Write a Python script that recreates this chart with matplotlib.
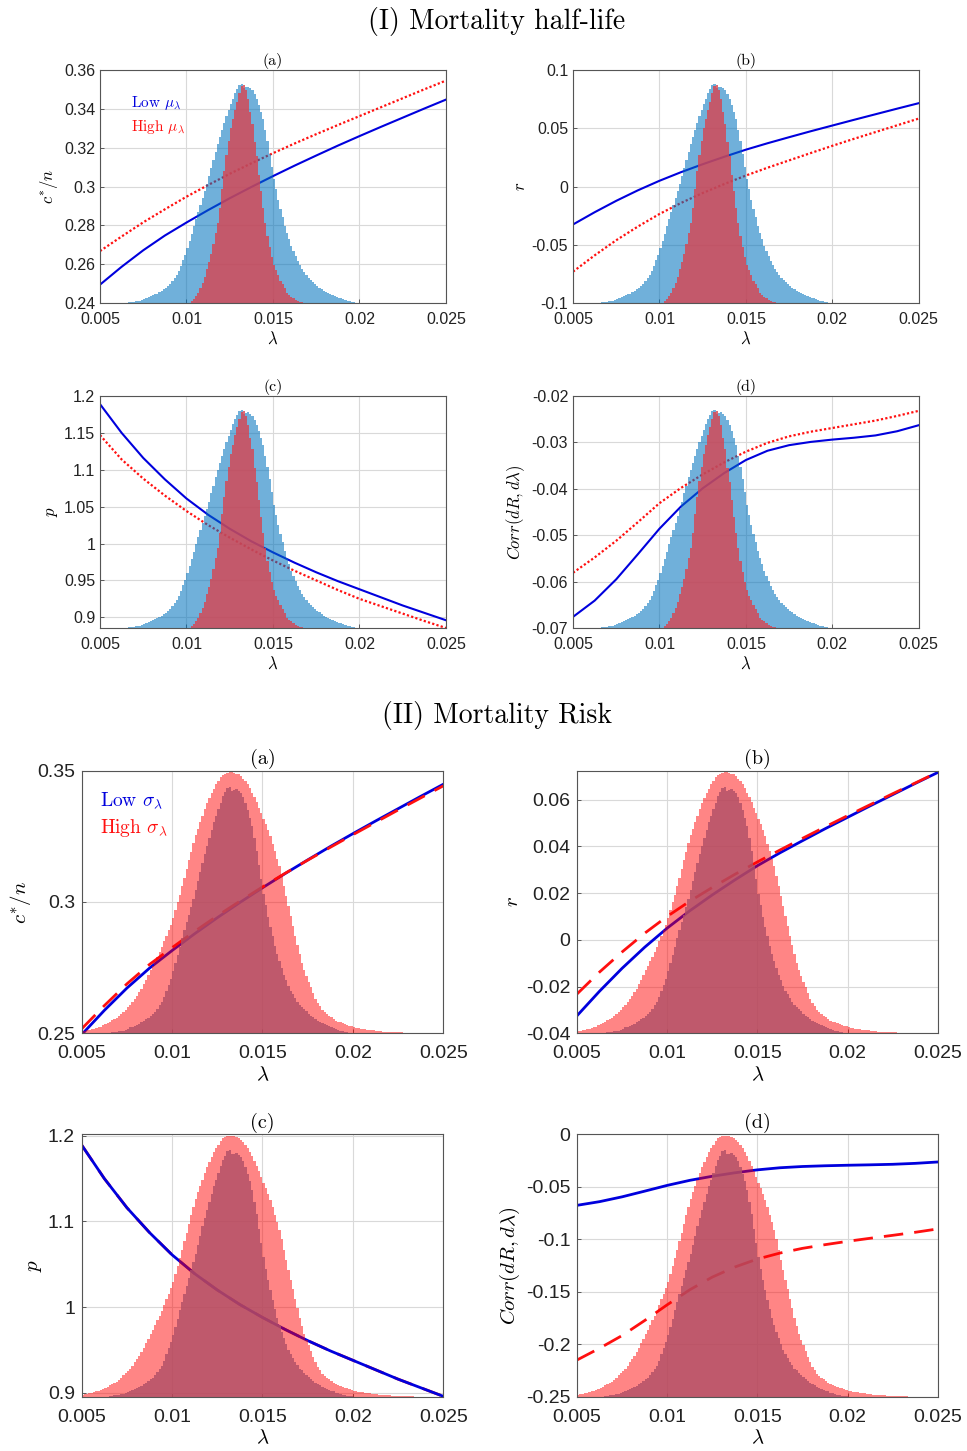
import numpy as np
import matplotlib
matplotlib.use('Agg')
import matplotlib.pyplot as plt
from matplotlib.transforms import blended_transform_factory

plt.rcParams['mathtext.fontset'] = 'cm'
plt.rcParams['axes.unicode_minus'] = False
plt.rcParams['font.family'] = ['Liberation Sans', 'DejaVu Sans']

# ---------------- data ----------------
lam = [0.005, 0.00625, 0.0075, 0.00875, 0.01, 0.01125, 0.0125, 0.01375, 0.015,
       0.01625, 0.0175, 0.01875, 0.02, 0.02125, 0.0225, 0.02375, 0.025]

# base case (Low mu / Low sigma)
cn_low = [0.2495, 0.2587, 0.2672, 0.2748, 0.2815, 0.2879, 0.2940, 0.2998, 0.3054,
          0.3108, 0.3160, 0.3211, 0.3260, 0.3308, 0.3355, 0.3402, 0.3448]
r_low = [-0.0325, -0.0220, -0.0122, -0.0032, 0.0050, 0.0124, 0.0192, 0.0256, 0.0317,
         0.0372, 0.0424, 0.0475, 0.0524, 0.0573, 0.0621, 0.0669, 0.0716]
p_low = [1.189, 1.150, 1.116, 1.087, 1.061, 1.039, 1.020, 1.003, 0.988,
         0.974, 0.961, 0.949, 0.938, 0.927, 0.916, 0.906, 0.896]
corr_low = [-0.0676, -0.0641, -0.0595, -0.0541, -0.0486, -0.0438, -0.0399, -0.0366, -0.0338,
            -0.0318, -0.0306, -0.0299, -0.0294, -0.0290, -0.0285, -0.0276, -0.0263]

# High mu_lambda (section I)
cn_highmu = [0.2668, 0.2743, 0.2816, 0.2883, 0.2948, 0.3008, 0.3066, 0.3120, 0.3172,
             0.3222, 0.3270, 0.3317, 0.3363, 0.3409, 0.3455, 0.3501, 0.3546]
r_highmu = [-0.0730, -0.0590, -0.0460, -0.0343, -0.0235, -0.0140, -0.0055, 0.0022, 0.0095,
            0.0162, 0.0225, 0.0288, 0.0350, 0.0410, 0.0468, 0.0526, 0.0584]
p_highmu = [1.147, 1.114, 1.088, 1.065, 1.044, 1.025, 1.008, 0.992, 0.977,
            0.963, 0.950, 0.937, 0.925, 0.915, 0.905, 0.895, 0.8855]
corr_highmu = [-0.0581, -0.0548, -0.0512, -0.0472, -0.0431, -0.0398, -0.0369, -0.0343, -0.0320,
               -0.0301, -0.0287, -0.0277, -0.0269, -0.0261, -0.0253, -0.0243, -0.0232]

# High sigma_lambda (section II)
cn_highsig = [0.2517, 0.2605, 0.2688, 0.2762, 0.2826, 0.2888, 0.2947, 0.3003, 0.3057,
              0.3109, 0.3159, 0.3208, 0.3256, 0.3303, 0.3350, 0.3396, 0.3442]
r_highsig = [-0.0232, -0.0138, -0.0052, 0.0028, 0.0100, 0.0165, 0.0224, 0.0280, 0.0333,
             0.0384, 0.0434, 0.0483, 0.0531, 0.0578, 0.0625, 0.0671, 0.0717]
p_highsig = [1.189, 1.150, 1.116, 1.087, 1.061, 1.039, 1.020, 1.003, 0.988,
             0.974, 0.961, 0.949, 0.938, 0.927, 0.916, 0.906, 0.896]
corr_highsig = [-0.2150, -0.2038, -0.1917, -0.1774, -0.1624, -0.1481, -0.1360, -0.1264, -0.1188,
                -0.1131, -0.1086, -0.1051, -0.1019, -0.0990, -0.0962, -0.0933, -0.0901]

# Histograms of lambda (relative bar heights, fraction of the panel height)
hist_base_start, hist_base_width = 0.0065, 0.000125
hist_base = [0.002, 0.003, 0.005, 0.006, 0.007, 0.009, 0.010, 0.014, 0.018, 0.022,
             0.025, 0.029, 0.033, 0.037, 0.041, 0.047, 0.053, 0.059, 0.066, 0.072,
             0.081, 0.094, 0.106, 0.119, 0.137, 0.161, 0.184, 0.208, 0.236, 0.267,
             0.298, 0.329, 0.361, 0.392, 0.422, 0.452, 0.482, 0.512, 0.545, 0.580,
             0.614, 0.649, 0.683, 0.713, 0.743, 0.773, 0.803, 0.828, 0.853, 0.878,
             0.902, 0.918, 0.935, 0.939, 0.924, 0.926, 0.929, 0.921, 0.914, 0.898, 0.876,
             0.849, 0.821, 0.789, 0.742, 0.695, 0.641, 0.586, 0.531, 0.488, 0.444,
             0.406, 0.369, 0.333, 0.302, 0.275, 0.247, 0.222, 0.201, 0.180, 0.162,
             0.148, 0.134, 0.120, 0.106, 0.100, 0.092, 0.084, 0.075, 0.067, 0.060,
             0.053, 0.048, 0.043, 0.039, 0.035, 0.030, 0.026, 0.023, 0.020, 0.016,
             0.013, 0.010, 0.007, 0.005, 0.003, 0.002, 0.001, 0.000]
hist_highmu_start, hist_highmu_width = 0.0100, 0.000125
hist_highmu = [0.0, 0.0, 0.008, 0.018, 0.03, 0.045, 0.065, 0.085, 0.11, 0.145,
               0.175, 0.21, 0.255, 0.30, 0.345, 0.41, 0.49, 0.565, 0.635, 0.695,
               0.75, 0.79, 0.83, 0.865, 0.90, 0.93, 0.937, 0.915, 0.875, 0.82,
               0.77, 0.69, 0.63, 0.55, 0.48, 0.41, 0.345, 0.29, 0.24, 0.20,
               0.165, 0.14, 0.12, 0.097, 0.08, 0.063, 0.045, 0.036, 0.028, 0.02,
               0.014, 0.009, 0.005, 0.003]
hist_highsig_start, hist_highsig_width = 0.005, 0.000125
hist_highsig = [0.007, 0.009, 0.012, 0.014, 0.016, 0.018, 0.020, 0.023, 0.025, 0.030,
                0.034, 0.039, 0.044, 0.049, 0.053, 0.058, 0.065, 0.073, 0.082, 0.090,
                0.099, 0.107, 0.118, 0.131, 0.143, 0.156, 0.170, 0.187, 0.204, 0.221,
                0.239, 0.256, 0.274, 0.291, 0.309, 0.328, 0.350, 0.371, 0.393, 0.414,
                0.438, 0.468, 0.498, 0.527, 0.559, 0.593, 0.626, 0.660, 0.691, 0.723,
                0.754, 0.779, 0.803, 0.828, 0.852, 0.876, 0.896, 0.913, 0.931, 0.948,
                0.961, 0.974, 0.985, 0.989, 0.992, 0.995, 0.995, 0.992, 0.989, 0.987, 0.980,
                0.970, 0.960, 0.949, 0.933, 0.916, 0.899, 0.881, 0.859, 0.838, 0.816,
                0.795, 0.773, 0.751, 0.722, 0.694, 0.665, 0.636, 0.600, 0.561, 0.522,
                0.484, 0.446, 0.409, 0.371, 0.337, 0.302, 0.268, 0.239, 0.218, 0.196,
                0.175, 0.153, 0.132, 0.115, 0.102, 0.088, 0.080, 0.073, 0.067, 0.061,
                0.054, 0.048, 0.044, 0.041, 0.038, 0.035, 0.032, 0.029, 0.026, 0.023,
                0.020, 0.019, 0.018, 0.017, 0.015, 0.014, 0.013, 0.012, 0.011, 0.010,
                0.008, 0.007, 0.006, 0.006, 0.005, 0.005, 0.004, 0.004, 0.004, 0.003,
                0.003, 0.002, 0.002, 0.002, 0.001, 0.001, 0.000, 0.000]

xticks = [0.005, 0.01, 0.015, 0.02, 0.025]
xticklabels = ['0.005', '0.01', '0.015', '0.02', '0.025']

# ---------------- styling ----------------
BLUE = '#0000dd'
RED = '#ff1010'
SERIF = 'cmr10'
fig = plt.figure(figsize=(9.67, 14.51), dpi=100)


def edges(start, width, n):
    return start + width * np.arange(n + 1)


def add_hist(ax, heights, start, width, color, alpha, z):
    tr = blended_transform_factory(ax.transData, ax.transAxes)
    ax.stairs(heights, edges(start, width, len(heights)), fill=True, baseline=0,
              color=color, alpha=alpha, linewidth=0, transform=tr, zorder=z)


def make_panel(rect, label, ylabel, ylim, yticks, fs, title_fs, lab_fs, xpad, ypad, tpad):
    ax = fig.add_axes(rect)
    ax.set_xlim(0.005, 0.025)
    ax.set_ylim(*ylim)
    ax.set_xticks(xticks)
    ax.set_xticklabels(xticklabels)
    ax.set_yticks(yticks)
    ax.set_yticklabels(['%g' % v for v in yticks])
    ax.tick_params(direction='in', length=3, width=0.6, labelsize=fs,
                   color='#444444', labelcolor='#222222')
    ax.tick_params(axis='x', pad=xpad)
    ax.tick_params(axis='y', pad=ypad)
    ax.grid(True, color='#d9d9d9', linewidth=0.8)
    ax.set_axisbelow(True)
    for s in ax.spines.values():
        s.set_color('#555555')
        s.set_linewidth(0.8)
        s.set_zorder(5)
    ax.set_title(label, fontfamily=SERIF, fontsize=title_fs, pad=tpad)
    ax.set_xlabel(r'$\lambda$', fontsize=lab_fs, labelpad=2)
    ax.set_ylabel(ylabel, fontsize=lab_fs, labelpad=3)
    return ax


# ---------------- Section I ----------------
fig.text(0.514, 1 - 22 / 1451, '(I) Mortality half-life', fontfamily=SERIF,
         fontsize=20, ha='center', va='center')
fsI, tfsI, lfsI = 11.5, 11.5, 12
I_rects = {
    'a': [0.1034, 0.7911, 0.3578, 0.1606],
    'b': [0.5926, 0.7911, 0.3575, 0.1606],
    'c': [0.1034, 0.5672, 0.3578, 0.1599],
    'd': [0.5926, 0.5672, 0.3575, 0.1599],
}
I_specs = {
    'a': (r'$c^{*}/n$', (0.24, 0.36), [0.24, 0.26, 0.28, 0.30, 0.32, 0.34, 0.36], cn_low, cn_highmu),
    'b': (r'$r$', (-0.1, 0.1), [-0.1, -0.05, 0, 0.05, 0.1], r_low, r_highmu),
    'c': (r'$p$', (0.8855, 1.2), [0.9, 0.95, 1.0, 1.05, 1.1, 1.15, 1.2], p_low, p_highmu),
    'd': (r'$Corr(dR, d\lambda)$', (-0.07, -0.02), [-0.07, -0.06, -0.05, -0.04, -0.03, -0.02],
          corr_low, corr_highmu),
}
for key in ['a', 'b', 'c', 'd']:
    ylabel, ylim, yt, low, high = I_specs[key]
    ax = make_panel(I_rects[key], '(%s)' % key, ylabel, ylim, yt, fsI, tfsI, lfsI,
                    xpad=6.5, ypad=3.5, tpad=3.5)
    ax.plot(lam, low, color=BLUE, lw=1.5, zorder=2)
    ax.plot(lam, high, color=RED, lw=1.6, ls=(0, (1, 1)), zorder=2)
    add_hist(ax, hist_base, hist_base_start, hist_base_width, '#0072bd', 0.56, 3)
    add_hist(ax, hist_highmu, hist_highmu_start, hist_highmu_width, '#d9434f', 0.8, 3.1)
    if key == 'a':
        ax.text(0.09, 0.858, r'Low $\mu_\lambda$', color=BLUE, fontfamily=SERIF,
                fontsize=11, transform=ax.transAxes, va='center', ha='left')
        ax.text(0.09, 0.755, r'High $\mu_\lambda$', color=RED, fontfamily=SERIF,
                fontsize=11, transform=ax.transAxes, va='center', ha='left')

# ---------------- Section II ----------------
fig.text(0.514, 1 - 715 / 1451, '(II) Mortality Risk', fontfamily=SERIF,
         fontsize=20, ha='center', va='center')
fsII, tfsII, lfsII = 14, 14.5, 15
II_rects = {
    'a': [0.0845, 0.2879, 0.3739, 0.1810],
    'b': [0.5967, 0.2879, 0.3730, 0.1810],
    'c': [0.0845, 0.0374, 0.3739, 0.1808],
    'd': [0.5967, 0.0374, 0.3730, 0.1808],
}
II_specs = {
    'a': (r'$c^{*}/n$', (0.25, 0.35), [0.25, 0.3, 0.35], cn_low, cn_highsig),
    'b': (r'$r$', (-0.04, 0.0724), [-0.04, -0.02, 0, 0.02, 0.04, 0.06], r_low, r_highsig),
    'c': (r'$p$', (0.8955, 1.2015), [0.9, 1.0, 1.1, 1.2], p_low, p_highsig),
    'd': (r'$Corr(dR, d\lambda)$', (-0.25, 0.0), [-0.25, -0.2, -0.15, -0.1, -0.05, 0],
          corr_low, corr_highsig),
}
for key in ['a', 'b', 'c', 'd']:
    ylabel, ylim, yt, low, high = II_specs[key]
    ax = make_panel(II_rects[key], '(%s)' % key, ylabel, ylim, yt, fsII, tfsII, lfsII,
                    xpad=8.5, ypad=4.8, tpad=4.5)
    zr = 1.9 if key == 'c' else 2.1
    ax.plot(lam, low, color=BLUE, lw=2.0, zorder=2)
    ax.plot(lam, high, color=RED, lw=2.0, ls=(0, (7, 4)), zorder=zr)
    add_hist(ax, hist_highsig, hist_highsig_start, hist_highsig_width, '#ff0000', 0.48, 3)
    add_hist(ax, hist_base, hist_base_start, hist_base_width, '#b04f66', 0.8, 3.1)
    if key == 'a':
        ax.text(0.05, 0.888, r'Low $\sigma_\lambda$', color=BLUE, fontfamily=SERIF,
                fontsize=14, transform=ax.transAxes, va='center', ha='left')
        ax.text(0.05, 0.782, r'High $\sigma_\lambda$', color=RED, fontfamily=SERIF,
                fontsize=14, transform=ax.transAxes, va='center', ha='left')

fig.savefig('out.png', dpi=100)
